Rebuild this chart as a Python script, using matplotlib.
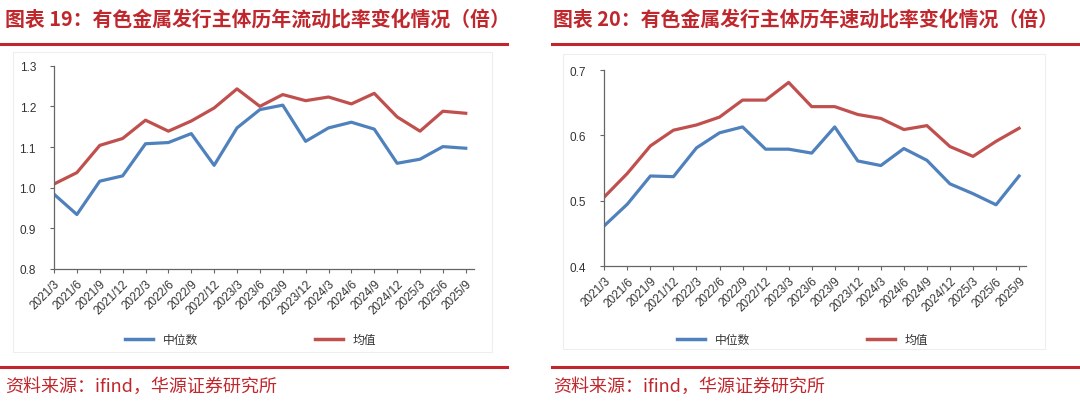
import matplotlib
matplotlib.use("Agg")
import matplotlib.pyplot as plt
from matplotlib.patches import Rectangle
from matplotlib.lines import Line2D

plt.rcParams['font.family'] = ['Noto Sans CJK SC', 'DejaVu Sans']

# 数据
quarters = ['2021/3', '2021/6', '2021/9', '2021/12', '2022/3', '2022/6', '2022/9', '2022/12',
            '2023/3', '2023/6', '2023/9', '2023/12', '2024/3', '2024/6', '2024/9', '2024/12',
            '2025/3', '2025/6', '2025/9']

# 流动比率
current_median = [0.984, 0.934, 1.016, 1.029, 1.108, 1.111, 1.133, 1.055, 1.147, 1.192,
                  1.203, 1.114, 1.147, 1.161, 1.144, 1.060, 1.070, 1.101, 1.097]
current_mean = [1.009, 1.037, 1.104, 1.121, 1.166, 1.139, 1.164, 1.196, 1.243, 1.200,
                1.229, 1.214, 1.223, 1.206, 1.232, 1.174, 1.139, 1.188, 1.183]

# 速动比率
quick_median = [0.462, 0.495, 0.538, 0.537, 0.581, 0.604, 0.613, 0.579, 0.579, 0.573,
                0.613, 0.561, 0.554, 0.580, 0.562, 0.526, 0.511, 0.494, 0.538]
quick_mean = [0.506, 0.542, 0.584, 0.608, 0.616, 0.628, 0.654, 0.654, 0.681, 0.644,
              0.644, 0.632, 0.626, 0.609, 0.615, 0.583, 0.568, 0.591, 0.611]

titles = ['图表 19：有色金属发行主体历年流动比率变化情况（倍）',
          '图表 20：有色金属发行主体历年速动比率变化情况（倍）']
source = '资料来源：ifind，华源证券研究所'

blue = '#4f81bd'
red = '#c0504d'
title_red = '#c0272d'
W, H = 1080, 402

fig = plt.figure(figsize=(W / 100, H / 100), dpi=100)


def fx(px):
    return px / W


def fy(py):
    return 1 - py / H


def panel(x0, title, xline0, xline1, ax_box, ylim, yticks, med, mean, leg_x, xend):
    # 标题和红线
    fig.text(fx(x0), fy(19), title, color=title_red,
             fontsize=14.3, fontweight='bold', va='center', ha='left')
    fig.add_artist(Line2D([fx(xline0), fx(xline1)], [fy(44.5), fy(44.5)],
                          color=title_red, lw=2.2))
    fig.add_artist(Line2D([fx(xline0), fx(xline1)], [fy(367.5), fy(367.5)],
                          color=title_red, lw=2.2))
    fig.text(fx(x0), fy(387), source, color=title_red, fontsize=13, va='center', ha='left')

    # 浅灰色图框
    l, t, r, b = ax_box[4]
    fig.add_artist(Rectangle((fx(l), fy(b)), fx(r - l), (b - t) / H,
                             fill=False, ec='#eeeeee', lw=0.8))

    ax = fig.add_axes(ax_box[:4])
    x = list(range(len(quarters)))
    ax.plot(x, med, color=blue, lw=2.3, solid_joinstyle='round', label='中位数')
    ax.plot(x, mean, color=red, lw=2.3, solid_joinstyle='round', label='均值')
    ax.set_xlim(0, xend)
    ax.set_ylim(*ylim)
    ax.set_yticks(yticks)
    ax.set_yticklabels(['{:.1f}'.format(v) for v in yticks], fontsize=8.5, color='#333333',
                       family='Liberation Sans')
    ax.set_xticks(x)
    ax.set_xticklabels(quarters, rotation=45, ha='right', va='top', rotation_mode='anchor',
                       fontsize=8.5, color='#333333', family='Liberation Sans')
    for s in ['top', 'right']:
        ax.spines[s].set_visible(False)
    for s in ['left', 'bottom']:
        ax.spines[s].set_color('#666666')
        ax.spines[s].set_linewidth(0.9)
    ax.tick_params(axis='both', length=3, width=0.8, color='#666666', pad=3)
    ax.tick_params(axis='y', pad=10)

    # 图例
    y_leg = fy(340)
    for dx, lab, c in [(0, '中位数', blue), (190, '均值', red)]:
        fig.add_artist(Line2D([fx(leg_x + dx), fx(leg_x + dx + 28)], [y_leg, y_leg],
                              color=c, lw=2.5))
        fig.text(fx(leg_x + dx + 38), y_leg, lab, fontsize=8.5, color='#333333',
                 va='center', ha='left')
    return ax


# 左图
panel(5, titles[0], 0, 507,
      [fx(54), fy(270), fx(474) - fx(54), fy(66.7) - fy(270), (13, 53, 492, 353)],
      (0.8, 1.3), [0.8, 0.9, 1.0, 1.1, 1.2, 1.3],
      current_median, current_mean, 125, 18.36)

# 右图
panel(553, titles[1], 552, 1080,
      [fx(604.3), fy(267.3), fx(1026) - fx(604.3), fy(71) - fy(267.3), (563, 55, 1045, 350)],
      (0.4, 0.7), [0.4, 0.5, 0.6, 0.7],
      quick_median, quick_mean, 677, 18.3)

fig.savefig('out.png', dpi=100)
